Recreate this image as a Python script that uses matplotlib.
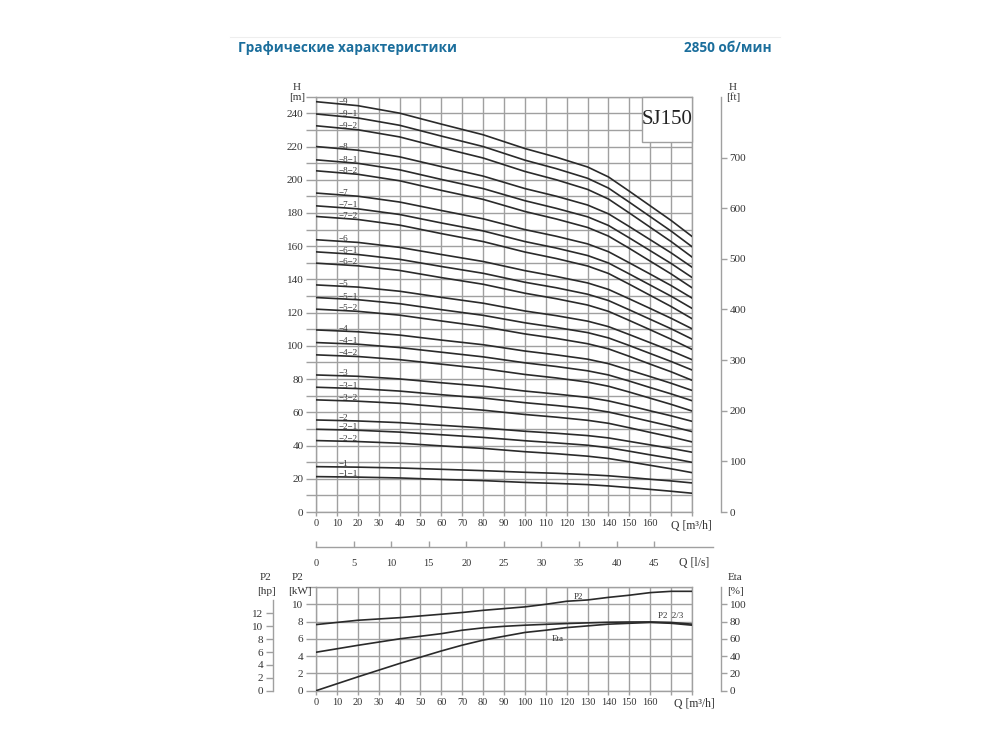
import numpy as np
import matplotlib
matplotlib.use('Agg')
import matplotlib.pyplot as plt
from matplotlib.patches import Rectangle

# flow points (m3/h) where the head curves were read
q = [0, 20, 40, 60, 80, 100, 115, 130, 140, 150, 160, 170, 180]

names = ['-9', '-9-1', '-9-2', '-8', '-8-1', '-8-2', '-7', '-7-1', '-7-2',
         '-6', '-6-1', '-6-2', '-5', '-5-1', '-5-2', '-4', '-4-1', '-4-2',
         '-3', '-3-1', '-3-2', '-2', '-2-1', '-2-2', '-1', '-1-1']

head = [
    [247.0, 244.6, 240.1, 233.5, 227.1, 218.8, 213.6, 207.7, 201.7, 193.1, 184.3, 175.5, 165.9],
    [239.6, 237.2, 232.8, 226.3, 220.0, 211.8, 206.7, 200.9, 195.0, 186.5, 177.8, 169.1, 159.7],
    [232.5, 230.1, 225.8, 219.3, 213.1, 205.0, 200.0, 194.2, 188.4, 180.0, 171.4, 162.8, 153.5],
    [220.0, 217.8, 213.8, 207.9, 202.2, 194.7, 190.1, 184.8, 179.5, 171.8, 163.9, 156.0, 147.4],
    [212.0, 209.9, 206.0, 200.2, 194.7, 187.4, 182.8, 177.7, 172.5, 165.0, 157.3, 149.6, 141.2],
    [205.4, 203.3, 199.4, 193.6, 188.2, 180.9, 176.4, 171.3, 166.1, 158.7, 151.0, 143.3, 135.0],
    [192.0, 190.1, 186.6, 181.5, 176.5, 170.0, 166.0, 161.4, 156.7, 150.0, 143.2, 136.3, 128.8],
    [184.3, 182.5, 179.1, 174.0, 169.2, 162.8, 158.9, 154.4, 149.9, 143.3, 136.6, 129.9, 122.6],
    [177.9, 176.1, 172.7, 167.6, 162.8, 156.5, 152.6, 148.1, 143.6, 137.1, 130.4, 123.7, 116.4],
    [163.9, 162.3, 159.3, 155.0, 150.8, 145.3, 141.8, 137.9, 134.0, 128.3, 122.5, 116.6, 110.3],
    [156.6, 155.0, 152.1, 147.8, 143.7, 138.3, 135.0, 131.1, 127.3, 121.7, 116.0, 110.3, 104.1],
    [149.8, 148.2, 145.4, 141.1, 137.1, 131.7, 128.4, 124.6, 120.8, 115.3, 109.7, 104.0, 97.9],
    [136.7, 135.4, 132.9, 129.2, 125.7, 121.0, 118.2, 114.9, 111.6, 106.8, 101.9, 97.0, 91.7],
    [129.1, 127.8, 125.4, 121.8, 118.4, 113.9, 111.1, 108.0, 104.8, 100.2, 95.4, 90.6, 85.5],
    [122.1, 120.8, 118.5, 115.0, 111.6, 107.2, 104.5, 101.3, 98.2, 93.7, 89.0, 84.4, 79.3],
    [109.6, 108.5, 106.5, 103.5, 100.7, 96.9, 94.6, 92.0, 89.3, 85.4, 81.5, 77.5, 73.2],
    [102.0, 101.0, 99.0, 96.2, 93.4, 89.8, 87.6, 85.0, 82.5, 78.8, 74.9, 71.1, 67.0],
    [94.6, 93.6, 91.7, 89.0, 86.3, 82.8, 80.7, 78.2, 75.7, 72.2, 68.5, 64.8, 60.8],
    [82.5, 81.7, 80.1, 77.8, 75.7, 72.8, 71.0, 69.0, 66.9, 64.0, 60.9, 57.9, 54.6],
    [75.1, 74.3, 72.8, 70.6, 68.6, 65.8, 64.1, 62.2, 60.2, 57.4, 54.5, 51.6, 48.4],
    [67.5, 66.7, 65.4, 63.3, 61.3, 58.7, 57.1, 55.2, 53.4, 50.7, 47.9, 45.2, 42.2],
    [55.4, 54.8, 53.8, 52.2, 50.6, 48.6, 47.4, 46.0, 44.6, 42.5, 40.4, 38.3, 36.0],
    [49.8, 49.2, 48.1, 46.5, 44.9, 42.9, 41.6, 40.2, 38.7, 36.6, 34.4, 32.3, 29.9],
    [43.0, 42.4, 41.4, 39.8, 38.3, 36.3, 35.1, 33.6, 32.2, 30.2, 28.1, 26.0, 23.7],
    [27.3, 27.0, 26.5, 25.7, 24.9, 23.9, 23.3, 22.5, 21.8, 20.8, 19.7, 18.7, 17.5],
    [21.3, 21.0, 20.5, 19.6, 18.9, 17.8, 17.2, 16.5, 15.7, 14.7, 13.6, 12.5, 11.3],
]

# power / efficiency panel
q_low = [0, 20, 40, 60, 70, 80, 90, 100, 110, 120, 130, 140, 150, 160, 170, 180]
p2 = [7.65, 8.15, 8.45, 8.85, 9.05, 9.3, 9.5, 9.7, 10.0, 10.35, 10.5, 10.8, 11.05, 11.35, 11.5, 11.5]
p2_23 = [4.45, 5.25, 6.0, 6.6, 7.0, 7.27, 7.45, 7.58, 7.68, 7.77, 7.85, 7.92, 7.95, 7.96, 7.9, 7.7]
eta = [0, 16, 31.5, 46, 52.7, 58.5, 63, 67.4, 70, 73, 75, 77, 78, 79, 78, 75.8]

W, H = 1000, 748
fx = lambda x: x / W
fy = lambda y: 1 - y / H

serif = 'Liberation Serif'
plt.rcParams['font.family'] = serif
grid_c = '#a0a0a0'
txt_c = '#333333'
line_c = '#2a2a2a'
fs = 8

fig = plt.figure(figsize=(10, 7.48), dpi=100)

# header
fig.text(fx(238), fy(48), 'Графические характеристики', family='Open Sans',
         weight='bold', fontsize=9.8, color='#1b6e9c', va='center', ha='left')
fig.text(fx(772), fy(48), '2850 об/мин', family='Open Sans',
         weight='bold', fontsize=9.8, color='#1b6e9c', va='center', ha='right')
fig.add_artist(plt.Line2D([fx(230), fx(780)], [fy(37), fy(37)], color='#eeeeee', lw=0.8))


def style(a):
    a.tick_params(colors=grid_c, labelcolor=txt_c, labelsize=fs, length=7, width=1.0, pad=2)
    for s in a.spines.values():
        s.set_color(grid_c)
        s.set_linewidth(1.0)


# ---- head chart ----
ax = fig.add_axes([fx(316), fy(512), fx(692) - fx(316), fy(96.7) - fy(512)])
ax.set_xlim(0, 180)
ax.set_ylim(0, 250)
ax.set_xticks(np.arange(0, 181, 10))
ax.set_xticklabels([str(v) if v <= 160 else '' for v in range(0, 181, 10)])
ax.set_yticks(np.arange(0, 251, 10))
ax.set_yticklabels([str(v) if v % 20 == 0 and v < 250 else '' for v in range(0, 251, 10)])
ax.grid(True, color=grid_c, lw=1.0)
ax.set_axisbelow(True)
style(ax)
ax.tick_params(axis='x', length=3, labelsize=7.5)

for n, h in zip(names, head):
    ax.plot(q, h, color=line_c, lw=1.2, zorder=3)
    y_lab = np.interp(15, q, h) + 1.6
    ax.text(10.8, y_lab, n.replace('-', '−'), fontsize=6.5, color=txt_c,
            va='center', ha='left', zorder=4)

ax.add_patch(Rectangle((156, 223), 24, 27, facecolor='white', edgecolor=grid_c,
                       lw=1.0, zorder=5, clip_on=False))
ax.text(168, 236.5, 'SJ150', fontsize=15, color='#222222', ha='center', va='center', zorder=6)

axf = ax.twinx()
axf.set_ylim(0, 250 * 3.28084)
axf.set_yticks(np.arange(0, 701, 100))
for s in ['left', 'top', 'bottom']:
    axf.spines[s].set_visible(False)
axf.spines['right'].set_position(('outward', 21))
style(axf)
axf.tick_params(length=4)

fig.text(fx(297), fy(87), 'H', fontsize=fs, color=txt_c, ha='center', va='center')
fig.text(fx(297), fy(97), '[m]', fontsize=fs, color=txt_c, ha='center', va='center')
fig.text(fx(733), fy(87), 'H', fontsize=fs, color=txt_c, ha='center', va='center')
fig.text(fx(733), fy(97), '[ft]', fontsize=fs, color=txt_c, ha='center', va='center')
fig.text(fx(691), fy(526), 'Q [m³/h]', fontsize=8.5, color=txt_c, ha='center', va='center')

# ---- l/s scale ----
axl = fig.add_axes([fx(316), fy(547), fx(713) - fx(316), 0.0005])
axl.set_xlim(0, (713 - 316) / 2.087 / 3.6)
axl.set_xticks(np.arange(0, 46, 5))
axl.set_yticks([])
for s in ['left', 'right', 'top']:
    axl.spines[s].set_visible(False)
style(axl)
axl.tick_params(axis='x', direction='in', length=4, pad=9, labelsize=7.5)
axl.patch.set_alpha(0)
fig.text(fx(694), fy(563), 'Q [l/s]', fontsize=8.5, color=txt_c, ha='center', va='center')

# ---- power / efficiency chart ----
axb = fig.add_axes([fx(316), fy(690.7), fx(692) - fx(316), fy(587) - fy(690.7)])
axb.set_xlim(0, 180)
axb.set_ylim(0, 12)
axb.set_xticks(np.arange(0, 181, 10))
axb.set_xticklabels([str(v) if v <= 160 else '' for v in range(0, 181, 10)])
axb.set_yticks(np.arange(0, 13, 2))
axb.set_yticklabels([str(v) if v < 12 else '' for v in range(0, 13, 2)])
axb.grid(True, color=grid_c, lw=1.0)
axb.set_axisbelow(True)
style(axb)
axb.tick_params(axis='x', length=3, labelsize=7.5)

axb.plot(q_low, p2, color=line_c, lw=1.2, zorder=3)
axb.plot(q_low, p2_23, color=line_c, lw=1.2, zorder=3)
axb.plot(q_low, [e / 10 for e in eta], color=line_c, lw=1.2, zorder=3)
axb.text(125.5, 10.9, 'P2', fontsize=6.5, color=txt_c, ha='center', va='center')
axb.text(170, 8.7, 'P2  2/3', fontsize=6.5, color=txt_c, ha='center', va='center')
axb.text(115.5, 5.95, 'Eta', fontsize=6.5, color=txt_c, ha='center', va='center')

axh = axb.twinx()
axh.set_ylim(0, 12 * 1.341)
axh.set_yticks(np.arange(0, 13, 2))
for s in ['right', 'top', 'bottom']:
    axh.spines[s].set_visible(False)
axh.spines['left'].set_visible(True)
axh.spines['left'].set_position(('outward', 31))
axh.spines['left'].set_bounds(0, 14)
axh.yaxis.set_ticks_position('left')
style(axh)
axh.tick_params(length=5)

axe = axb.twinx()
axe.set_ylim(0, 120)
axe.set_yticks(np.arange(0, 101, 20))
for s in ['left', 'top', 'bottom']:
    axe.spines[s].set_visible(False)
axe.spines['right'].set_position(('outward', 21))
style(axe)
axe.tick_params(length=4)

fig.text(fx(266), fy(578), 'P2', fontsize=fs, color=txt_c, ha='center', va='center')
fig.text(fx(266), fy(592), '[hp]', fontsize=fs, color=txt_c, ha='center', va='center')
fig.text(fx(298), fy(578), 'P2', fontsize=fs, color=txt_c, ha='center', va='center')
fig.text(fx(300), fy(592), '[kW]', fontsize=fs, color=txt_c, ha='center', va='center')
fig.text(fx(735), fy(578), 'Eta', fontsize=fs, color=txt_c, ha='center', va='center')
fig.text(fx(735), fy(592), '[%]', fontsize=fs, color=txt_c, ha='center', va='center')
fig.text(fx(694), fy(704), 'Q [m³/h]', fontsize=8.5, color=txt_c, ha='center', va='center')

fig.savefig('out.png', dpi=100, facecolor='white')
